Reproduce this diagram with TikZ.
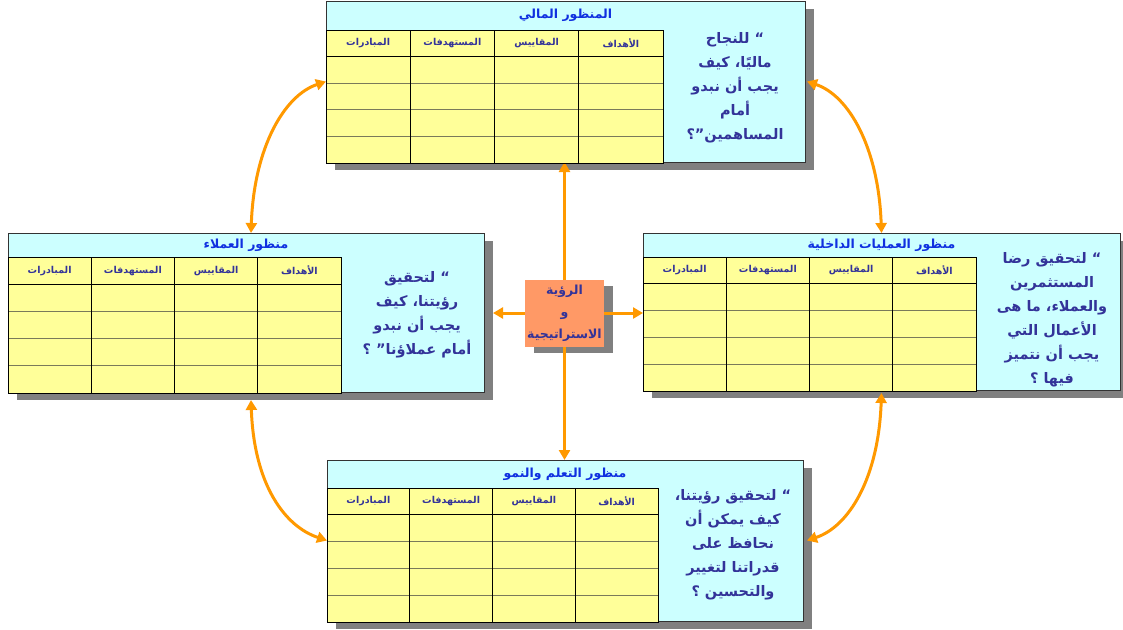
\documentclass[tikz,border=0pt]{standalone}
\usepackage{fontspec}
\newfontfamily\arabicfont[Script=Arabic]{DejaVu Sans}
\TeXXeTstate=1
\usetikzlibrary{arrows.meta,calc}
\pgfdeclarelayer{back}
\pgfdeclarelayer{bg}
\pgfsetlayers{back,bg,main}
\definecolor{cyanp}{HTML}{CCFFFF}
\definecolor{yelp}{HTML}{FFFF99}
\definecolor{orng}{HTML}{FF9900}
\definecolor{salm}{HTML}{FF9966}
\definecolor{shad}{HTML}{808080}
\definecolor{navy}{HTML}{333399}
\definecolor{ttl}{HTML}{1030E0}
\definecolor{rowl}{HTML}{7A7A5A}
\newcommand\ar[1]{{\arabicfont\beginR #1\endR}}
\tikzset{
  panelbox/.style={draw=black!80, line width=0.8pt, fill=cyanp, inner sep=0pt, outer sep=0pt},
  tabline/.style={draw=black, line width=0.9pt},
  rowline/.style={draw=rowl, line width=0.8pt},
  titletext/.style={font=\bfseries\fontsize{12.5}{14}\selectfont, text=ttl, inner sep=0pt},
  colhead/.style={font=\bfseries\fontsize{9.5}{11}\selectfont, text=navy, inner sep=0pt},
  bodytext/.style={font=\bfseries\fontsize{14.5}{24}\selectfont, text=navy, align=center, inner sep=0pt},
  arr/.style={draw=orng, line width=3pt, -{Triangle[length=10pt,width=11pt]}},
  arrb/.style={draw=orng, line width=3pt, {Triangle[length=10pt,width=11pt]}-{Triangle[length=10pt,width=11pt]}},
}
% #1 name, #2 x0, #3 y0, #4 x1, #5 y1, #6 title band bottom, #7 table right, #8 title
\newcommand\mypanel[8]{%
  \begin{pgfonlayer}{bg}
    \fill[shad] (#2+9,#3+8) rectangle (#4+9,#5+8);
  \end{pgfonlayer}
  \node[panelbox, anchor=north west, minimum width={#4-#2}, minimum height={#5-#3}] (#1) at (#2,#3) {};
  \fill[yelp] (#2,#6) rectangle (#7,#5+1);
  \foreach \k in {2,3,4}
    \draw[rowline] (#2,{#6+\k*(#5+1-#6)/5}) -- (#7,{#6+\k*(#5+1-#6)/5});
  \draw[tabline] (#2,{#6+(#5+1-#6)/5}) -- (#7,{#6+(#5+1-#6)/5});
  \foreach \j in {1,2,3}
    \draw[tabline] ({#2+\j*(#7-#2)/4},#6) -- ({#2+\j*(#7-#2)/4},#5+1);
  \draw[tabline] (#2,#6) rectangle (#7,#5+1);
  \node[titletext] (#1-title) at ({(#2+#4)/2},{(#3+#6)/2}) {\arabicfont\beginR #8\endR};
  \foreach \j/\t in {0/المبادرات,1/المستهدفات,2/المقاييس,3/الأهداف}
    \node[colhead] (#1-h\j) at ({#2+(\j+0.5)*(#7-#2)/4},{#6+(#5+1-#6)/10}) {\ar{\t}};
}
\begin{document}
\begin{tikzpicture}[x=1pt,y=-1pt]
\begin{pgfonlayer}{back}
  \fill[white] (0,0) rectangle (1123,629);
\end{pgfonlayer}
\useasboundingbox (0,0) rectangle (1123,629);

\mypanel{fin}{326}{1}{805}{162}{30}{663}{المنظور المالي}
\mypanel{cus}{8}{233}{484}{392}{257}{341}{منظور العملاء}
\mypanel{int}{643}{233}{1120}{390}{257}{976}{منظور العمليات الداخلية}
\mypanel{lrn}{327}{460}{803}{621}{488}{658}{منظور التعلم والنمو}

\node[bodytext] (fin-q) at (735,88) {\ar{“ للنجاح}\\\ar{ماليًا، كيف}\\\ar{يجب أن نبدو}\\\ar{أمام}\\\ar{المساهمين”؟}};
\node[bodytext] (cus-q) at (417,315) {\ar{“ لتحقيق}\\\ar{رؤيتنا، كيف}\\\ar{يجب أن نبدو}\\\ar{أمام عملاؤنا” ؟}};
\node[bodytext] (int-q) at (1052,320) {\ar{“ لتحقيق رضا}\\\ar{المستثمرين}\\\ar{والعملاء، ما هى}\\\ar{الأعمال التي}\\\ar{يجب أن نتميز}\\\ar{فيها ؟}};
\node[bodytext] (lrn-q) at (733,545) {\ar{“ لتحقيق رؤيتنا،}\\\ar{كيف يمكن أن}\\\ar{نحافظ على}\\\ar{قدراتنا لتغيير}\\\ar{والتحسين ؟}};

% center box
\begin{pgfonlayer}{bg}
  \fill[shad] (534,286) rectangle (613,353);
\end{pgfonlayer}
\node[fill=salm, minimum width=79pt, minimum height=67pt, inner sep=0pt, outer sep=0pt,
      font=\bfseries\fontsize{12.5}{22}\selectfont, text=navy, align=center] (vis) at (564.5,313)
      {\ar{الرؤية}\\\ar{و}\\\ar{الاستراتيجية}};

\begin{pgfonlayer}{bg}
  \draw[arr] (vis.center) -- (vis.center |- fin.south);
  \draw[arr] (vis.center) -- (vis.center |- lrn.north);
  \draw[arr] (vis.center) -- ($(vis.center -| cus.east)+(9,0)$);
  \draw[arr] (vis.center) -- (vis.center -| int.west);
  \draw[arrb] ($(cus.north)+(5,0)$) .. controls +(3,-85) and +(-42,14) .. (fin.west);
  \draw[arrb] ($(fin.east)+(2,0)$) .. controls +(42,14) and +(-3,-85) .. (int.north);
  \draw[arrb] ($(cus.south)+(5,8)$) .. controls +(3,85) and +(-42,-14) .. (lrn.west);
  \draw[arrb] ($(int.south)+(0,3)$) .. controls +(-3,85) and +(42,-14) .. ($(lrn.east)+(4,0)$);
\end{pgfonlayer}
\end{tikzpicture}
\end{document}
